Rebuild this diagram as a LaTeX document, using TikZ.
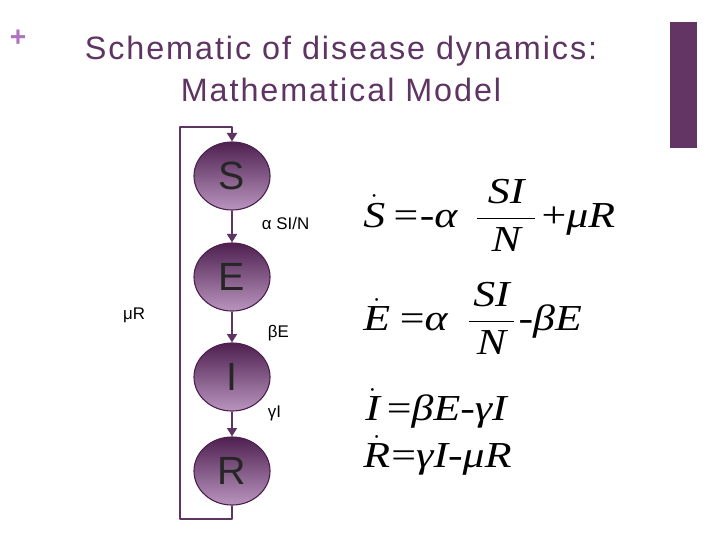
\documentclass[tikz,border=0pt]{standalone}
\usepackage{amsmath}
\usepackage{fontspec}
\setmainfont{Liberation Sans}
\newfontfamily\eqfont[FakeStretch=1.2]{Liberation Serif}
\usetikzlibrary{shapes.geometric,arrows.meta,positioning}
\definecolor{plum}{HTML}{5E3462}
\definecolor{plumdark}{HTML}{4E2050}
\definecolor{plumlight}{HTML}{B995BE}
\definecolor{plumbar}{HTML}{633565}
\definecolor{plustint}{HTML}{B070C0}
\newcommand\iv[1]{\text{\eqfont\itshape #1}}
\newcommand\uv[1]{\text{\eqfont #1}}
\newcommand\fr[3]{\dfrac{\makebox[#1]{\iv{#2}}}{\iv{#3}}}
\begin{document}
\begin{tikzpicture}[x=0.025cm,y=-0.025cm,>={Triangle[width=7pt,length=6pt]},line join=round,
	comp/.style={ellipse,draw=plumdark,line width=0.8pt,top color=plumdark,bottom color=plumlight,
		minimum width=1.9cm,minimum height=1.7cm,inner sep=0pt,text=black!85,font=\fontsize{28}{30}\selectfont},
	flow/.style={->,draw=plum,line width=2pt},
	rate/.style={anchor=west,font=\fontsize{12}{14}\selectfont},
	eqn/.style={anchor=base west,inner sep=0pt,font=\fontsize{26}{30}\selectfont}]
	\useasboundingbox (0,0) rectangle (720,540);
	% heading
	\node[text=plum,font=\fontsize{20}{20}\selectfont\bfseries,text=plustint] (plus) at (18,38) {+};
	\node[text=plum,align=center,font=\fontsize{23}{30}\selectfont\addfontfeature{LetterSpace=6}] (title) at (341,69) {Schematic of disease dynamics:\\Mathematical Model};
	\fill[plumbar] (670,22) rectangle (697,148);
	% compartments
	\foreach \n/\y in {S/176,E/277,I/377,R/471}
	\node[comp] (\n) at (232,\y) {\n};
	\foreach \a/\b in {S/E,E/I,I/R}
	\draw[flow] (\a) -- (\b);
	% feedback loop
	\coordinate (rb) at (232,519); \coordinate (lb) at (180,519);
	\coordinate (lt) at (180,127); \coordinate (st) at (232,127);
	\draw[flow] (R) -- (rb) -- (lb) -- (lt) -- (st) -- (S);
	\node[rate] (aSI) at (257,223) {α SI/N};
	\node[rate] (bE) at (263,333) {βE};
	\node[rate] (gI) at (263,413) {γI};
	\node[rate,anchor=center] (muR) at (134,315) {μR};
	% equations
	\node[eqn] (eqS) at (363,227) {$\dot{\iv{S}}\hspace{6pt}\uv{=}\hspace{1pt}\uv{-}\iv{α}\hspace{13pt}\fr{41pt}{SI}{N}\hspace{3.5pt}\uv{+}\iv{μR}$};
	\node[eqn] (eqE) at (363,330) {$\dot{\iv{E}}\hspace{7pt}\uv{=}\iv{α}\hspace{14pt}\fr{32pt}{SI}{N}\hspace{2pt}\uv{-}\iv{βE}$};
	\node[eqn] (eqI) at (365,420) {$\dot{\iv{I}}\hspace{5pt}\uv{=}\iv{βE}\uv{-}\iv{γI}$};
	\node[eqn] (eqR) at (363,467) {$\dot{\iv{R}}\hspace{1pt}\uv{=}\iv{γI}\uv{-}\iv{μR}$};
\end{tikzpicture}
\end{document}
